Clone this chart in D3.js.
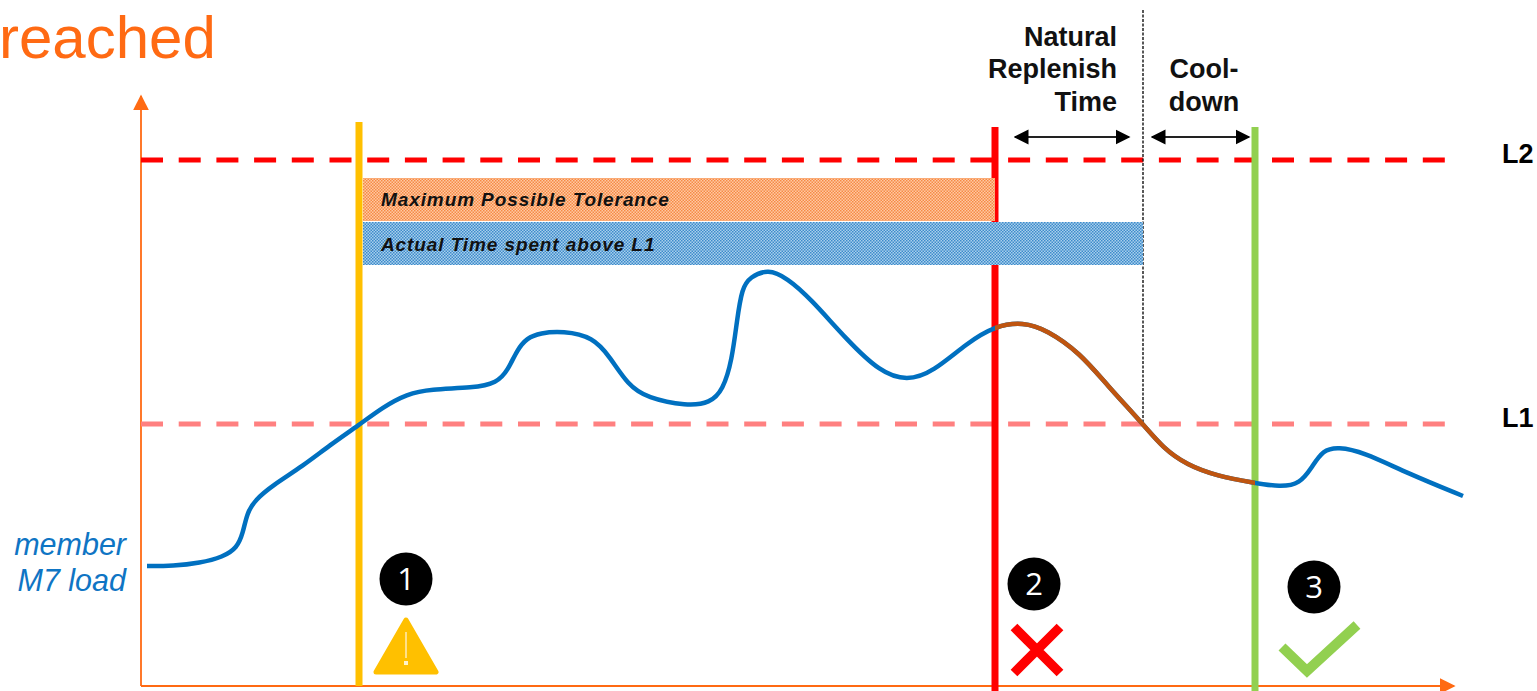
<!DOCTYPE html>
<html><head><meta charset="utf-8">
<script src="https://cdn.jsdelivr.net/npm/d3@7"></script>
<style>html,body{margin:0;padding:0;background:#fff;overflow:hidden}svg{display:block}text{font-family:"Liberation Sans",Arial,sans-serif}</style>
</head><body><script>
// Time and load are in arbitrary chart units
const loadTime=[6,32,59,82,96,102,106,114,132,162,189,218,242,266,289,332,356,367,376,386,399,422,452,469,487,506,546,569,582,591,596,601,609,627,646,669,706,739,766,792,826,854,882,906,939,966,1002,1022,1046,1076,1114,1139,1159,1171,1182,1197,1222,1266,1322];
const loadValue=[120,120,123,129,138,153,173,186,201,220,241,261,279,292,297,298,303,316,336,348,353,355,349,329,301,288,280,283,296,326,366,398,409,417,408,388,346,314,305,314,343,360,364,356,333,301,262,238,221,210,203,199,202,219,236,239,234,213,190];
const thresholds=[{name:"L2",value:526},{name:"L1",value:262}];
const eventTimes=[218,854,1114];
const phaseEnd=1002;
const toleranceBar=[222,854];
const actualBar=[222,1002];
const barLabels=["Maximum Possible Tolerance","Actual Time spent above L1"];
const phaseLabels=[["Natural","Replenish","Time"],["Cool-","down"]];
const seriesLabel=["member","M7 load"];

const W=1537,H=691,x0=141,y0=686;
const x=d3.scaleLinear().domain([0,1310]).range([x0,x0+1310]);
const y=d3.scaleLinear().domain([0,586]).range([y0,y0-586]);
const svg=d3.select("body").append("svg").attr("width",W).attr("height",H);
const defs=svg.append("defs");
function pat(id,bg,fg){
  const p=defs.append("pattern").attr("id",id).attr("width",3).attr("height",3).attr("patternUnits","userSpaceOnUse");
  p.append("rect").attr("width",3).attr("height",3).attr("fill",bg);
  p.append("rect").attr("width",1.5).attr("height",1.5).attr("fill",fg);
  p.append("rect").attr("x",1.5).attr("y",1.5).attr("width",1.5).attr("height",1.5).attr("fill",fg);
}
pat("po","#FFC9A3","#F58A45");
pat("pb","#A9CFEC","#3D8BCB");
function marker(id,c,size,orient){
  defs.append("marker").attr("id",id).attr("viewBox","0 0 10 10").attr("refX",9).attr("refY",5)
    .attr("markerWidth",size[0]).attr("markerHeight",size[1]).attr("markerUnits","userSpaceOnUse").attr("orient",orient)
    .append("path").attr("d","M0,0L10,5L0,10Z").attr("fill",c);
}
marker("ax","#FF6A13",[16,16],"auto");
marker("dbl","#000",[15,16],"auto-start-reverse");
defs.append("clipPath").attr("id","over").append("rect")
  .attr("x",x(eventTimes[1])).attr("width",x(eventTimes[2])-x(eventTimes[1])).attr("y",0).attr("height",H);

const orange="#FF6A13";
svg.append("text").attr("x",-1).attr("y",58).attr("font-size",60).attr("fill",orange).text("reached");

// axes
svg.append("g").call(g=>{
  g.append("line").attr("x1",x(0)).attr("x2",x(0)).attr("y1",y(0)).attr("y2",96).attr("stroke",orange).attr("stroke-width",1.8).attr("marker-end","url(#ax)");
  g.append("line").attr("x1",x(0)).attr("x2",1454).attr("y1",y(0)).attr("y2",y(0)).attr("stroke",orange).attr("stroke-width",1.8).attr("marker-end","url(#ax)");
});

// thresholds
svg.selectAll(".th").data(thresholds).join("line").attr("class","th")
  .attr("x1",x(0)).attr("x2",1450).attr("y1",d=>y(d.value)).attr("y2",d=>y(d.value))
  .attr("stroke",d=>d.name==="L2"?"#FF0000":"#FF8080").attr("stroke-width",5)
  .attr("stroke-dasharray","22 15.7");
svg.selectAll(".thl").data(thresholds).join("text").attr("class","thl")
  .attr("x",1502).attr("y",d=>y(d.value)+3).attr("font-size",27).attr("font-weight","bold").text(d=>d.name);

// event lines
const evColor=["#FFC000","#FF0000","#92D050"],evTop=[122,127,127],evBot=[686,691,691];
svg.selectAll(".ev").data(eventTimes).join("line").attr("class","ev")
  .attr("x1",d=>x(d)).attr("x2",d=>x(d)).attr("y1",(d,i)=>evTop[i]).attr("y2",(d,i)=>evBot[i])
  .attr("stroke",(d,i)=>evColor[i]).attr("stroke-width",7);

// dotted phase end
svg.append("line").attr("x1",x(phaseEnd)).attr("x2",x(phaseEnd)).attr("y1",10).attr("y2",y(262))
  .attr("stroke","#222").attr("stroke-width",1.5).attr("stroke-dasharray","3 1.5");

// bars
const bars=[{r:toleranceBar,top:178,bot:221,f:"url(#po)"},{r:actualBar,top:222,bot:265,f:"url(#pb)"}];
svg.selectAll(".bar").data(bars).join("rect").attr("class","bar")
  .attr("x",d=>x(d.r[0])).attr("width",d=>x(d.r[1])-x(d.r[0])).attr("y",d=>d.top).attr("height",d=>d.bot-d.top).attr("fill",d=>d.f);
svg.selectAll(".barl").data(barLabels).join("text").attr("class","barl")
  .attr("x",381).attr("y",(d,i)=>[206,251][i]).attr("font-size",19).attr("font-weight","bold").attr("font-style","italic")
  .attr("letter-spacing",0.9).attr("fill","#111").text(d=>d);

// load curve
const pts=loadTime.map((t,i)=>[t,loadValue[i]]);
const line=d3.line().x(d=>x(d[0])).y(d=>y(d[1])).curve(d3.curveBasis);
svg.append("path").attr("d",line(pts)).attr("fill","none").attr("stroke","#0070C0").attr("stroke-width",4.5);
svg.append("path").attr("d",line(pts)).attr("clip-path","url(#over)").attr("fill","none").attr("stroke","#BF5510").attr("stroke-width",4.5);

// series label
svg.selectAll(".sl").data(seriesLabel).join("text").attr("class","sl").attr("x",126).attr("y",(d,i)=>555+i*36)
  .attr("text-anchor","end").attr("font-size",30.5).attr("font-style","italic").attr("fill","#0F75C4").text(d=>d);

// phase labels
const plPos=[{x:1117,a:"end",y:[46,78,111]},{x:1204,a:"middle",y:[78,111]}];
phaseLabels.forEach((ls,k)=>{
  svg.selectAll(".pl"+k).data(ls).join("text").attr("class","pl"+k).attr("x",plPos[k].x).attr("y",(d,i)=>plPos[k].y[i])
    .attr("text-anchor",plPos[k].a).attr("font-size",27).attr("font-weight","bold").attr("fill","#111").text(d=>d);
});
[[1015,1129],[1152,1249]].forEach(a=>{
  svg.append("line").attr("x1",a[0]).attr("x2",a[1]).attr("y1",137).attr("y2",137).attr("stroke","#222").attr("stroke-width",1.8)
    .attr("marker-start","url(#dbl)").attr("marker-end","url(#dbl)");
});

// numbered badges
const badges=[[406,579],[1034,584],[1314,587]];
badges.forEach((b,i)=>{
  svg.append("circle").attr("cx",b[0]).attr("cy",b[1]).attr("r",26.5).attr("fill","#000");
  svg.append("text").attr("x",b[0]).attr("y",b[1]+11).attr("text-anchor","middle").attr("font-size",31).attr("fill","#fff").style("font-family","'Open Sans',sans-serif").text(i+1);
});

// warning
svg.append("path").attr("d","M406,620L436,672L376,672Z").attr("fill","#FFC000").attr("stroke","#FFC000").attr("stroke-width",5).attr("stroke-linejoin","round");
svg.append("rect").attr("x",405).attr("y",632).attr("width",2).attr("height",26).attr("fill","#FFE089");
svg.append("rect").attr("x",404).attr("y",661).attr("width",4).attr("height",4).attr("fill","#FFF3CC");
// cross
svg.append("path").attr("d","M1014,627L1060,673M1060,627L1014,673").attr("stroke","#FF0000").attr("stroke-width",9.5).attr("fill","none");
// check
svg.append("path").attr("d","M1282,647L1307,671L1357,625").attr("stroke","#92D050").attr("stroke-width",10).attr("fill","none");
</script></body></html>
